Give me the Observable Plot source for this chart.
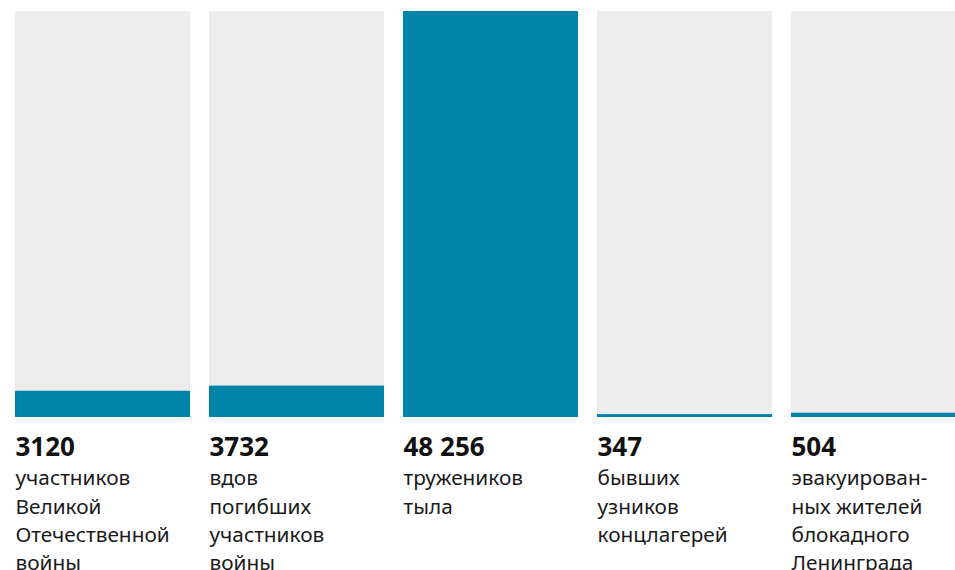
<!DOCTYPE html>
<html>
<head>
<meta charset="utf-8">
<script src="https://cdn.jsdelivr.net/npm/d3@7"></script>
<script src="https://cdn.jsdelivr.net/npm/@observablehq/plot@0.6"></script>
<style>
  html, body { margin: 0; padding: 0; background: #fff; overflow: hidden; width: 955px; height: 570px; }
  #chart svg { display: block; max-width: none !important; height: 570px !important; }
</style>
</head>
<body>
<div id="chart"></div>
<script>
const categories = ["veterans", "widows", "homefront", "prisoners", "evacuees"];
const values = [3120, 3732, 48256, 347, 504];
const descriptions = [
  "участников\nВеликой\nОтечественной\nвойны",
  "вдов\nпогибших\nучастников\nвойны",
  "тружеников\nтыла",
  "бывших\nузников\nконцлагерей",
  "эвакуирован-\nных жителей\nблокадного\nЛенинграда"
];

const fmt = v => v >= 10000 ? d3.format(",")(v).replace(/,/g, "\u00a0") : String(v);
const maxV = d3.max(values);
const data = categories.map((c, i) => ({cat: c, value: values[i], max: maxV, label: fmt(values[i]), desc: descriptions[i]}));

const bw = 175;
const chart = Plot.plot({
  width: 970,
  height: 570,
  marginTop: 11,
  marginBottom: 153,
  marginLeft: 14,
  marginRight: 4,
  style: {fontFamily: "'Noto Sans', sans-serif", background: "#fff"},
  x: {domain: categories, axis: null, paddingInner: 0.099, paddingOuter: 0},
  y: {domain: [0, maxV], axis: null},
  marks: [
    Plot.barY(data, {x: "cat", y: "max", fill: "#ececec"}),
    Plot.barY(data, {x: "cat", y: "value", fill: "#0083a9"}),
    Plot.text(data, {x: "cat", frameAnchor: "bottom", text: "label", textAnchor: "start", dx: -bw / 2, dy: 38, lineAnchor: "bottom", fontSize: 26, fontWeight: "bold", fill: "#111"}),
    Plot.text(data, {x: "cat", frameAnchor: "bottom", text: "desc", textAnchor: "start", dx: -bw / 2, dy: 48, lineAnchor: "top", lineHeight: 1.35, fontSize: 20.8, fill: "#1a1a1a"})
  ]
});
document.getElementById("chart").appendChild(chart);
</script>
</body>
</html>
